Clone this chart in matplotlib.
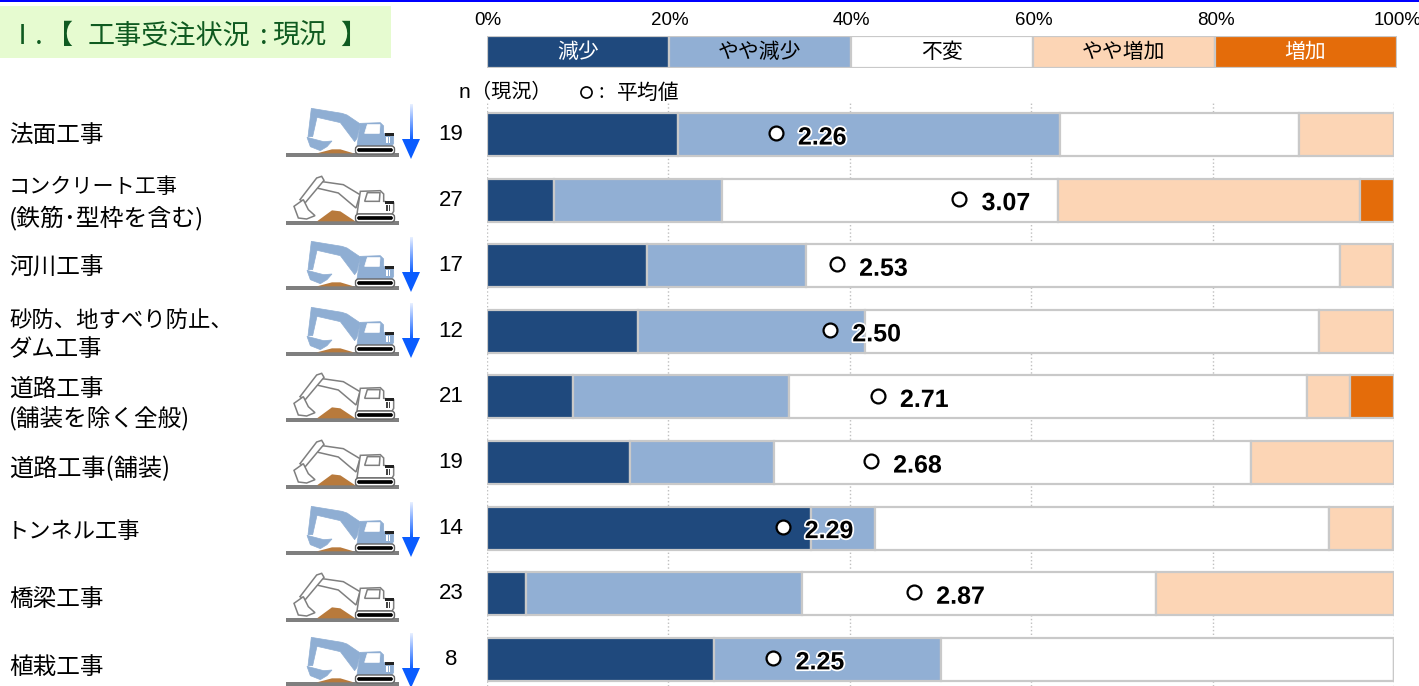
import numpy as np
import matplotlib
matplotlib.use("Agg")
import matplotlib.pyplot as plt
import matplotlib.patheffects as pe
from matplotlib.patches import Polygon, Rectangle, FancyBboxPatch
from matplotlib.transforms import ScaledTranslation

# Data (percent of answers per category)
labels = ["法面工事", "コンクリート工事\n(鉄筋･型枠を含む)", "河川工事", "砂防、地すべり防止、\nダム工事",
          "道路工事\n(舗装を除く全般)", "道路工事(舗装)", "トンネル工事", "橋梁工事", "植栽工事"]
n_vals = [19, 27, 17, 12, 21, 19, 14, 23, 8]
means = [2.26, 3.07, 2.53, 2.50, 2.71, 2.68, 2.29, 2.87, 2.25]
decrease = [21.1, 7.4, 17.6, 16.7, 9.5, 15.8, 35.7, 4.3, 25.0]
slight_decrease = [42.1, 18.5, 17.6, 25.0, 23.8, 15.8, 7.1, 30.4, 25.0]
same = [26.3, 37.0, 58.8, 50.0, 57.1, 52.6, 50.0, 39.1, 50.0]
slight_increase = [10.5, 33.3, 5.9, 8.3, 4.8, 15.8, 7.1, 26.2, 0.0]
increase = [0.0, 3.8, 0.0, 0.0, 4.8, 0.0, 0.0, 0.0, 0.0]
falling = [True, False, True, True, False, False, True, False, True]
legend_names = ["減少", "やや減少", "不変", "やや増加", "増加"]
legend_colors = ["#1F497D", "#91AFD4", "#FFFFFF", "#FCD5B5", "#E46C0A"]
legend_text_colors = ["white", "black", "black", "black", "white"]
percent_ticks = [0, 20, 40, 60, 80, 100]

# Layout in image pixels, one entry per text line of the labels
W, H = 1419, 686
label_y = [[135], [187, 218], [268], [320, 349], [389, 418], [469], [532], [599], [667]]
label_size = [[17], [15.2, 17.2], [17], [16.1, 16.8], [17, 17], [17.4], [16], [17], [17]]
label_x = [9, 9, 9, 9, 9, 9, 7, 9, 9]
ground_y = [155, 223, 288, 354, 420, 487, 553, 620, 684]
EDGE = "#C9C9C9"
JP = ["Noto Sans CJK JP", "DejaVu Sans"]
NUM = ["Liberation Sans", "DejaVu Sans"]

fig = plt.figure(figsize=(W / 100, H / 100), dpi=100, facecolor="white")


def px_axes(left, top, right, bottom, **kw):
    return fig.add_axes([left / W, 1 - bottom / H, (right - left) / W, (bottom - top) / H], **kw)


#%%
# Background layer for everything outside of the charts
bg = px_axes(0, 0, W, H, zorder=1)
bg.set_xlim(0, W)
bg.set_ylim(H, 0)
bg.axis("off")
bg.add_patch(Rectangle((0, 0), W, 1.5, color="#0000FF", lw=0))
bg.add_patch(Rectangle((0, 6), 391, 52, color="#E6FBD0", lw=0))
for tx, part in zip([9, 46, 88, 260, 272, 340], ["Ⅰ.", "【", "工事受注状況", ":", "現況", "】"]):
    bg.text(tx, 36, part, family=JP, fontsize=19.5, color="#0F5A20", va="center", ha="left")
bg.text(459, 93, "n", family=NUM, fontsize=15, va="center")
bg.text(471, 93, "（現況）", family=JP, fontsize=14.5, va="center", ha="left")
bg.plot([586], [92], "o", ms=8, mfc="white", mec="black", mew=1.2)
bg.text(599, 93, ":", family=JP, fontsize=14.5, va="center")
bg.text(617, 93, "平均値", family=JP, fontsize=15, va="center")


def digger(x, y, coloured):
    # shape traced by hand, x/y in 1/3 pixels from the icon corner
    def pts(p):
        return [(x + a / 3, y + b / 3) for a, b in p]
    fill = "#8FAED3" if coloured else "white"
    line = "#8FAED3" if coloured else "#7F7F7F"
    lw = 0.5 if coloured else 1.1
    bg.add_patch(Rectangle((x + 4, y + 53), 113, 4, color="#7F7F7F", lw=0, zorder=2))
    pile = [(105, 160), (150, 148), (175, 148), (215, 160)] if coloured else [(105, 160), (150, 127), (175, 130), (220, 160)]
    bg.add_patch(Polygon(pts(pile), color="#B87A3C", lw=0, zorder=2))
    if coloured:
        shapes = [[(88, 25), (100, 27), (180, 40), (195, 45), (235, 72), (225, 115), (218, 125), (175, 68), (105, 52), (92, 110), (78, 110)],
                  [(75, 112), (125, 125), (150, 123), (135, 140), (115, 152), (85, 140)]]
    else:
        shapes = [[(114, 40), (184, 50), (234, 80), (222, 120), (169, 75), (104, 60)],
                  [(104, 30), (119, 25), (126, 37), (69, 105), (54, 95)],
                  [(36, 115), (64, 95), (79, 125), (99, 143), (74, 153), (49, 150)]]
    for shape in shapes:
        bg.add_patch(Polygon(pts(shape), fc=fill, ec=line, lw=lw, zorder=3))
    body = [(235, 70), (295, 68), (305, 78), (305, 100), (335, 105), (335, 130), (330, 138), (225, 138)]
    bg.add_patch(Polygon(pts(body), fc=fill, ec=line, lw=lw, zorder=3))
    window = [(256, 74), (294, 74), (292, 100), (248, 100)]
    bg.add_patch(Polygon(pts(window), fc="white", ec="#7F7F7F" if not coloured else "white", lw=lw, zorder=4))
    bg.add_patch(Rectangle((x + 308 / 3, y + 99 / 3), 9, 3, color="#222222", lw=0, zorder=4))
    for gx in (312, 320):
        bg.add_patch(Rectangle((x + gx / 3, y + 112 / 3), 1.6, 6, color="white" if coloured else "#444444", lw=0, zorder=4))
    bg.add_patch(FancyBboxPatch((x + 75, y + 47.5), 36, 5, boxstyle="round,pad=1.5,rounding_size=3",
                                fc="white", ec="#666666", lw=1, zorder=4))
    bg.add_patch(FancyBboxPatch((x + 76, y + 49), 34, 2, boxstyle="round,pad=0.5,rounding_size=1.5",
                                fc="black", ec="black", lw=0.5, zorder=5))


def down_arrow(x, tip):
    grad = np.ones((40, 1, 4))
    grad[:, :, :3] = matplotlib.colors.to_rgb("#0A5CFF")
    grad[:, 0, 3] = np.linspace(0.1, 1, 40)
    bg.imshow(grad, extent=(x - 1.3, x + 1.3, tip - 19, tip - 55), aspect="auto", zorder=3)
    bg.add_patch(Polygon([(x - 9, tip - 20), (x + 9, tip - 20), (x, tip)], color="#0A5CFF", lw=0, zorder=3))


for i in range(len(labels)):
    for line, ly, fs in zip(labels[i].split("\n"), label_y[i], label_size[i]):
        bg.text(label_x[i], ly, line, family=JP, fontsize=fs, va="center", ha="left")
    digger(282, ground_y[i] - 55, falling[i])
    if falling[i]:
        down_arrow(411, ground_y[i] + 4)
    bg.text(451, 134.5 + 65.6 * i, str(n_vals[i]), family=NUM, fontsize=16, va="center", ha="center")
bg.set_xlim(0, W)
bg.set_ylim(H, 0)

#%%
# Legend bar, its percent scale sits on top
leg = px_axes(486.7, 35.5, 1396.5, 67.5, zorder=2)
left = 0
for name, col, tc in zip(legend_names, legend_colors, legend_text_colors):
    leg.barh(0, 20, left=left, height=1, color=col, edgecolor=EDGE, linewidth=1.6)
    leg.text(left + 10, -0.03, name, family=JP, fontsize=15, color=tc, ha="center", va="center")
    left += 20
leg.set_xlim(0, 100)
leg.set_ylim(-0.5, 0.5)
leg.set_yticks([])
leg.xaxis.tick_top()
leg.set_xticks(percent_ticks)
leg.set_xticklabels([str(t) + "%" for t in percent_ticks], family=NUM, fontsize=13.5)
leg.tick_params(axis="x", length=0, pad=5)
for lab in leg.get_xticklabels():
    lab.set_transform(lab.get_transform() + ScaledTranslation(1 / 100, 0, fig.dpi_scale_trans))
for s in leg.spines.values():
    s.set_visible(False)

#%%
# Main stacked bars
ax = px_axes(487, 101, 1394, H, zorder=2)
ax.patch.set_alpha(0)
rows = np.arange(len(labels))
lefts = np.zeros(len(labels))
for vals, col in zip([decrease, slight_decrease, same, slight_increase, increase], legend_colors):
    ax.barh(rows, vals, left=lefts, height=0.655, color=col, edgecolor=EDGE, linewidth=1.6, zorder=2)
    lefts = lefts + np.array(vals)
ax.set_xlim(0, 100)
ax.set_ylim((H - 134.5) / 65.6, (101 - 134.5) / 65.6)
ax.set_xticks(percent_ticks)
ax.set_yticks([])
ax.tick_params(axis="x", length=0, labelbottom=False)
ax.grid(axis="x", color="#BFBFBF", linestyle=":", linewidth=1, zorder=0)
ax.set_axisbelow(True)
for s in ax.spines.values():
    s.set_visible(False)

# Average on a 1..5 answer scale, picture has it about 0.3% to the right
mean_x = (np.array(means) - 1) / 4 * 100 + 0.33
ax.plot(mean_x, rows - 0.02, "o", ms=10, mfc="white", mec="black", mew=1.6, zorder=4, clip_on=False)
for i in rows:
    t = ax.annotate("{:.2f}".format(means[i]), (mean_x[i], i), xytext=(16, -2.2), textcoords="offset points",
                    family=NUM, fontsize=18, fontweight="bold", va="center", ha="left", zorder=5)
    t.set_path_effects([pe.withStroke(linewidth=2.5, foreground="white")])

fig.savefig("out.png", dpi=100)
